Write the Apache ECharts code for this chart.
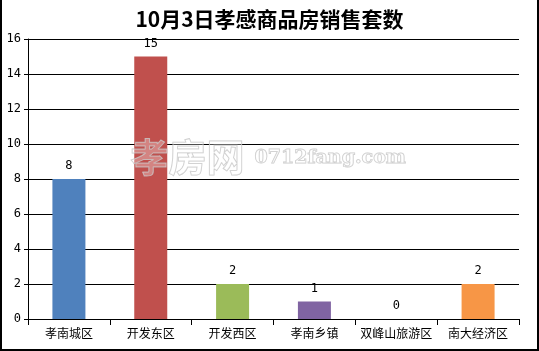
<!DOCTYPE html>
<html><head><meta charset="utf-8">
<script src="https://cdn.jsdelivr.net/npm/echarts@6/dist/echarts.min.js"></script>
<style>html,body{margin:0;padding:0;background:#fff}#c{width:539px;height:351px}</style>
</head><body><div id="c"></div>
<script>
var titleText = '10月3日孝感商品房销售套数';
var categories = ['孝南城区','开发东区','开发西区','孝南乡镇','双峰山旅游区','南大经济区'];
var values = [8, 15, 2, 1, 0, 2];
var colors = ['#4F81BD','#C0504D','#9BBB59','#8064A2','#4BACC6','#F79646'];
var yTicks = [0,2,4,6,8,10,12,14,16];
var font = '"Noto Sans CJK SC", sans-serif';
var chart = echarts.init(document.getElementById('c'));
chart.setOption({
  animation: false,
  backgroundColor: '#fff',
  title: { text: titleText, left: 'center', top: 4,
    textStyle: { fontFamily: font, fontWeight: 'bold', fontSize: 21, color: '#000' } },
  grid: { left: 28, right: 20, top: 39, bottom: 32 },
  xAxis: { type: 'category', data: categories,
    axisLine: { lineStyle: { color: '#000', width: 1 } },
    axisTick: { show: true, length: 6, alignWithLabel: false, lineStyle: { color: '#000' } },
    axisLabel: { color: '#000', fontSize: 12, fontFamily: font, margin: 8, interval: 0 } },
  yAxis: { type: 'value', min: 0, max: 16, interval: 2,
    axisLine: { show: true, lineStyle: { color: '#000' } },
    axisTick: { show: true, length: 4, lineStyle: { color: '#000' } },
    axisLabel: { color: '#000', fontSize: 12, fontFamily: 'DejaVu Sans Mono, monospace', margin: 7,
      formatter: function(v){ return yTicks.indexOf(v) >= 0 ? String(v) : ''; } },
    splitLine: { show: true, lineStyle: { color: '#000', width: 1 } } },
  series: [{ type: 'bar', barWidth: 33,
    data: values.map(function(v,i){ return { value: v, itemStyle: { color: colors[i] } }; }),
    label: { show: true, position: 'top', distance: 7, color: '#000', fontSize: 12, fontFamily: 'DejaVu Sans Mono, monospace' } }],
  graphic: [
    { type: 'text', left: 130, top: 137, z: 100, silent: true,
      style: { text: '孝房网', font: 'bold 38px ' + font, fill: 'rgba(255,255,255,0.3)', stroke: 'rgba(190,190,190,0.8)', lineWidth: 1 } },
    { type: 'text', left: 254, top: 148, z: 100, silent: true,
      style: { text: '0712fang.com', font: 'bold 19px "DejaVu Serif", serif', fill: 'rgba(255,255,255,0.3)', stroke: 'rgba(190,190,190,0.8)', lineWidth: 1 } },
    { type: 'line', shape: { x1: 1, y1: 0, x2: 1, y2: 350 }, style: { stroke: '#000', lineWidth: 2 } },
    { type: 'line', shape: { x1: 538, y1: 0, x2: 538, y2: 350 }, style: { stroke: '#000', lineWidth: 2 } },
    { type: 'line', shape: { x1: 0, y1: 350, x2: 539, y2: 350 }, style: { stroke: '#000', lineWidth: 2 } }
  ]
});
</script></body></html>
